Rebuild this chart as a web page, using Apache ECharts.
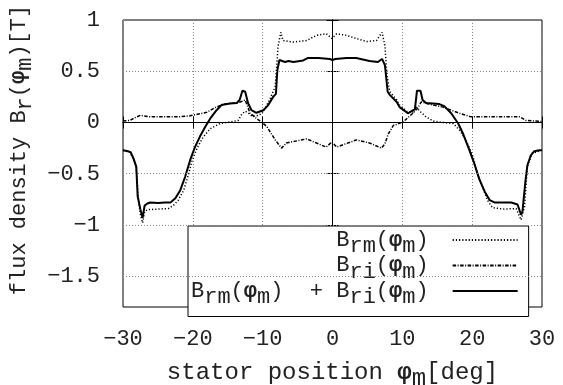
<!DOCTYPE html>
<html>
<head>
<meta charset="utf-8">
<script src="https://cdn.jsdelivr.net/npm/echarts@6/dist/echarts.min.js"></script>
<style>
  html, body { margin: 0; padding: 0; background: #fff; }
  #chart { width: 563px; height: 385px; }
</style>
</head>
<body>
<div id="chart"></div>
<script>
// B_rm (magnet part), dotted
var rmX = [-30, -29.0, -28.5, -28.1, -27.8, -27.5, -27.2, -26.9, -26.5, -25.0, -23.5, -22.8, -22.1, -21.3, -20.6, -20.1, -19.4, -18.5, -17.5, -16.1, -14.7, -13.5, -13.0, -12.5, -12.0, -11.5, -10.5, -9.9, -9.0, -8.2, -7.8, -7.4, -7.1, -5.6, -3.7, -2.3, -0.9, -0.1, 0.6, 2.0, 3.4, 4.9, 6.3, 7.1, 7.5, 7.8, 8.2, 9.2, 9.6, 10.8, 11.5, 12.0, 12.5, 13.4, 14.4, 15.8, 17.3, 18.2, 19.1, 20.1, 20.8, 21.5, 22.2, 22.9, 24.5, 26.3, 27.0, 27.5, 27.9, 28.6, 29.6, 30];
var rmY = [-0.27, -0.29, -0.36, -0.45, -0.75, -0.90, -0.98, -0.87, -0.85, -0.845, -0.84, -0.81, -0.76, -0.66, -0.50, -0.37, -0.25, -0.14, -0.06, -0.01, 0.005, 0.02, 0.08, 0.11, 0.09, 0.06, 0.07, 0.11, 0.22, 0.35, 0.74, 0.88, 0.80, 0.785, 0.80, 0.85, 0.867, 0.82, 0.865, 0.85, 0.82, 0.79, 0.80, 0.88, 0.75, 0.46, 0.30, 0.22, 0.17, 0.10, 0.10, 0.15, 0.11, 0.055, 0.015, 0.0, -0.01, -0.075, -0.17, -0.33, -0.50, -0.63, -0.76, -0.83, -0.845, -0.84, -0.95, -0.82, -0.43, -0.30, -0.28, -0.27];

// B_ri (induced part), dash-dot
var riX = [-30, -29.0, -28.2, -27.5, -26.1, -22.0, -20.4, -18.0, -16.8, -15.6, -14.0, -13.2, -12.5, -11.8, -10.9, -10.1, -9.4, -8.2, -7.3, -6.6, -3.7, -2.3, -0.9, -0.1, 0.6, 3.4, 5.3, 7.0, 7.5, 8.0, 8.7, 10.1, 11.5, 12.2, 12.7, 13.8, 15.8, 18.2, 19.8, 26.8, 27.7, 28.7, 30];
var riY = [0.015, 0.02, 0.05, 0.07, 0.055, 0.055, 0.065, 0.10, 0.145, 0.18, 0.19, 0.20, 0.22, 0.09, 0.04, 0.0, -0.04, -0.17, -0.25, -0.20, -0.16, -0.20, -0.24, -0.19, -0.24, -0.17, -0.20, -0.25, -0.21, -0.11, -0.03, 0.005, 0.09, 0.14, 0.20, 0.18, 0.15, 0.09, 0.055, 0.055, 0.02, 0.015, 0.01];

// B_rm + B_ri, solid
var sumX = [-30, -29.3, -28.9, -28.5, -28.1, -27.9, -27.5, -27.2, -26.9, -26.5, -26.1, -25.0, -24.0, -23.2, -22.5, -21.8, -21.1, -20.4, -19.7, -19.0, -18.2, -17.5, -16.6, -15.9, -14.7, -13.7, -13.3, -12.9, -12.5, -12.1, -11.6, -10.9, -9.9, -9.2, -8.5, -8.1, -7.9, -7.6, -7.4, -6.8, -6.3, -5.6, -4.2, -3.5, -2.0, -0.4, 0, 0.4, 2.0, 3.4, 5.3, 6.5, 7.1, 7.5, 7.6, 7.9, 8.2, 9.2, 9.6, 10.8, 11.8, 12.1, 12.6, 12.9, 13.4, 15.3, 16.0, 17.0, 18.0, 18.7, 19.6, 20.3, 21.0, 21.8, 22.5, 23.2, 25.6, 26.5, 27.0, 27.2, 27.6, 27.9, 28.4, 28.9, 29.6, 30];
var sumY = [-0.27, -0.28, -0.29, -0.35, -0.43, -0.72, -0.85, -0.93, -0.81, -0.79, -0.78, -0.785, -0.78, -0.78, -0.74, -0.66, -0.53, -0.37, -0.24, -0.14, -0.04, 0.04, 0.12, 0.17, 0.185, 0.19, 0.22, 0.31, 0.30, 0.19, 0.12, 0.095, 0.12, 0.17, 0.25, 0.28, 0.51, 0.61, 0.62, 0.59, 0.60, 0.59, 0.605, 0.63, 0.63, 0.62, 0.61, 0.62, 0.63, 0.63, 0.60, 0.59, 0.62, 0.56, 0.50, 0.30, 0.27, 0.20, 0.15, 0.09, 0.13, 0.31, 0.31, 0.22, 0.19, 0.18, 0.16, 0.09, -0.01, -0.11, -0.27, -0.40, -0.55, -0.675, -0.757, -0.78, -0.78, -0.80, -0.90, -0.87, -0.59, -0.42, -0.32, -0.28, -0.27, -0.27];

var yTicks = [-1.5, -1, -0.5, 0, 0.5, 1];
var yGrid = [-1.5, -1, -0.5, 0.5];

var MONO = '"Liberation Mono", "DejaVu Sans Mono", monospace';
var TXT = '#222';

function pairs(xs, ys) {
    return xs.map(function (x, i) { return [x, ys[i]]; });
}
function minus(v) {
    return String(v).replace('-', '\u2212');
}

var subStyle = function (size) {
    return { fontFamily: MONO, fontSize: size, color: TXT, padding: [13, 0, 0, 0] };
};
var phiStyle = function (size) {
    return { fontFamily: MONO, fontWeight: 'bold', fontSize: size, color: TXT };
};
var baseStyle = function (size) {
    return { fontFamily: MONO, fontSize: size, color: TXT };
};

var legendText = {
    rm: '{b|B}{s|rm}{b|(}{p|\u03c6}{s|m}{b|)}',
    ri: '{b|B}{s|ri}{b|(}{p|\u03c6}{s|m}{b|)}',
    sum: '{b|B}{s|rm}{b|(}{p|\u03c6}{s|m}{b|)  + B}{s|ri}{b|(}{p|\u03c6}{s|m}{b|)}'
};

var chart = echarts.init(document.getElementById('chart'));

var tickStyle = { show: true, inside: true, length: 6, lineStyle: { color: '#000', width: 1 } };
var lineAxis = { show: true, lineStyle: { color: '#000', width: 1 } };

chart.setOption({
    animation: false,
    backgroundColor: '#fff',
    grid: {
        left: 123, right: 21, top: 20, bottom: 78,
        outerBoundsMode: 'none',
        containLabel: false,
        show: true, borderColor: '#000', borderWidth: 1, backgroundColor: 'transparent'
    },
    xAxis: [{
        type: 'value', min: -30, max: 30, interval: 10,
        axisLine: lineAxis,
        axisTick: tickStyle,
        splitLine: { show: true, lineStyle: { color: '#888', type: [1, 2], width: 1 } },
        axisLabel: {
            margin: 21, color: TXT, fontFamily: MONO, fontSize: 22,
            formatter: minus
        },
        name: 'stator position {p|\u03c6}{s|m}[deg]',
        nameLocation: 'middle',
        nameGap: 47,
        nameTextStyle: {
            color: TXT, fontFamily: MONO, fontSize: 24,
            rich: { s: subStyle(24), p: phiStyle(24) }
        }
    }, {
        type: 'value', min: -30, max: 30, interval: 10, position: 'top',
        axisLine: lineAxis, axisTick: tickStyle,
        axisLabel: { show: false }, splitLine: { show: false }
    }],
    yAxis: [{
        type: 'value', min: -1.8, max: 1,
        axisLine: lineAxis,
        axisTick: Object.assign({ customValues: yTicks }, tickStyle),
        splitLine: { show: false },
        axisLabel: {
            customValues: yTicks,
            margin: 23, color: TXT, fontFamily: MONO, fontSize: 22,
            formatter: minus
        },
        name: 'flux density B{s|r}({p|\u03c6}{s|m})[T]',
        nameLocation: 'middle',
        nameRotate: 90,
        nameGap: 75,
        nameTextStyle: {
            color: TXT, fontFamily: MONO, fontSize: 22,
            padding: [0, 0, 0, 27],
            rich: { s: subStyle(22), p: phiStyle(22) }
        }
    }, {
        type: 'value', min: -1.8, max: 1, position: 'right',
        axisLine: lineAxis,
        axisTick: Object.assign({ customValues: yTicks }, tickStyle),
        axisLabel: { show: false, customValues: yTicks },
        splitLine: { show: false }
    }],
    legend: {
        orient: 'vertical',
        align: 'right',
        left: 188, top: 226,
        padding: [3, 10, 8, 3],
        itemGap: -3,
        itemWidth: 65,
        itemHeight: 14,
        selectedMode: false,
        backgroundColor: '#fff',
        borderColor: '#000',
        borderWidth: 1,
        itemStyle: { opacity: 0 },
        data: ['rm', 'ri', 'sum'],
        formatter: function (name) { return legendText[name]; },
        textStyle: {
            padding: [0, 19, 0, 0],
            rich: { b: baseStyle(22), s: subStyle(22), p: phiStyle(22) }
        }
    },
    series: [{
        name: 'rm', type: 'line', symbol: 'none', z: 3,
        data: pairs(rmX, rmY),
        lineStyle: { color: '#000', width: 1.5, type: [1.2, 2] },
        itemStyle: { color: '#000' },
        markLine: {
            silent: true, symbol: ['none', 'none'], label: { show: false },
            animation: false,
            lineStyle: { color: '#888', type: [1, 2], width: 1 },
            data: yGrid.map(function (v) { return { yAxis: v }; }).concat([
                { yAxis: 0, lineStyle: { color: '#000', type: 'solid', width: 1 } }
            ])
        }
    }, {
        name: 'ri', type: 'line', symbol: 'none', z: 3,
        data: pairs(riX, riY),
        lineStyle: { color: '#000', width: 1.5, type: [3.5, 1.5, 1, 1.5] },
        itemStyle: { color: '#000' }
    }, {
        name: 'sum', type: 'line', symbol: 'none', z: 4,
        data: pairs(sumX, sumY),
        lineStyle: { color: '#000', width: 2, type: 'solid' },
        itemStyle: { color: '#000' }
    }]
});
</script>
</body>
</html>
